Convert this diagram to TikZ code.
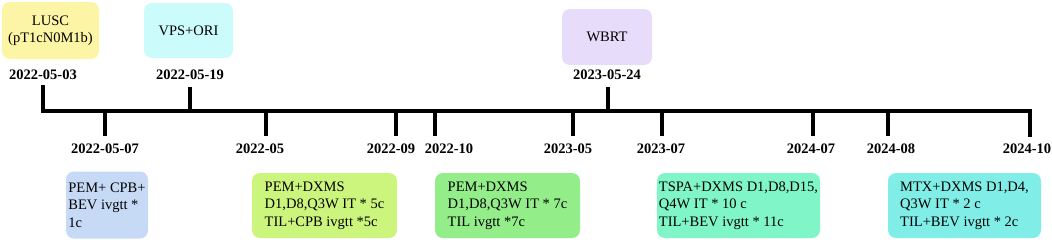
\documentclass[tikz,border=0pt]{standalone}
\usepackage{fontspec}
\setmainfont{Liberation Serif}
\begin{document}
\begin{tikzpicture}[x=1pt,y=-1pt,
  evbox/.style={rounded corners=8pt, draw=none, align=left, inner sep=0pt, font=\fontsize{14.5}{17.5}\selectfont},
  topbox/.style={rounded corners=8pt, draw=none, align=center, inner sep=0pt, font=\fontsize{14.5}{17.5}\selectfont},
  datelbl/.style={font=\fontsize{14.5}{17}\selectfont\bfseries, inner sep=0pt},
  axis/.style={line width=3.5pt, line cap=rect},
  tick/.style={line width=3.5pt}]
\useasboundingbox (0,0) rectangle (1052,242);
\definecolor{cLUSC}{HTML}{FCF5A5}
\definecolor{cVPS}{HTML}{CCFBFB}
\definecolor{cWBRT}{HTML}{E8DCFB}
\definecolor{cB1}{HTML}{C6DAF6}
\definecolor{cB2}{HTML}{CCF57E}
\definecolor{cB3}{HTML}{93EE8A}
\definecolor{cB4}{HTML}{80F5C8}
\definecolor{cB5}{HTML}{80EEE6}

% axis
\coordinate (s0) at (43,87);
\coordinate (s1) at (43,111);
\coordinate (e1) at (1030,111);
\coordinate (e0) at (1030,135);
\draw[axis] (s0) -- (s1) -- (e1) -- (e0);

% upper ticks
\coordinate (u1a) at (190,87); \coordinate (u1b) at (190,111);
\coordinate (u2a) at (608,87); \coordinate (u2b) at (608,111);
\draw[tick] (u1a) -- (u1b);
\draw[tick] (u2a) -- (u2b);

% lower ticks
\foreach \x/\n in {105/a,266/b,396/c,435/d,573/e,662/f,813/g,888/h}{
  \coordinate (l\n a) at (\x,111);
  \coordinate (l\n b) at (\x,136);
  \draw[tick] (l\n a) -- (l\n b);
}

% upper date labels
\node[datelbl] (d1) at (43,75) {2022-05-03};
\node[datelbl] (d2) at (190,75) {2022-05-19};
\node[datelbl] (d3) at (607,75) {2023-05-24};

% lower date labels
\node[datelbl] (dl1) at (105,149) {2022-05-07};
\node[datelbl] (dl2) at (260,149) {2022-05};
\node[datelbl] (dl3) at (391,149) {2022-09};
\node[datelbl] (dl4) at (449,149) {2022-10};
\node[datelbl] (dl5) at (568,149) {2023-05};
\node[datelbl] (dl6) at (661,149) {2023-07};
\node[datelbl] (dl7) at (811,149) {2024-07};
\node[datelbl] (dl8) at (891,149) {2024-08};
\node[datelbl] (dl9) at (1027,149) {2024-10};

% top boxes
\node[topbox, fill=cLUSC, minimum width=97, minimum height=57] (lusc) at (50.5,30.5) {LUSC\\(pT1cN0M1b)};
\node[topbox, fill=cVPS, minimum width=89, minimum height=55] (vps) at (188.5,30.5) {VPS+ORI};
\node[topbox, fill=cWBRT, minimum width=90, minimum height=56] (wbrt) at (607,37) {WBRT};

% bottom boxes
\node[evbox, fill=cB1, minimum width=82, minimum height=67] (b1) at (107,205) {PEM+ CPB+\\BEV ivgtt *\\1c};
\node[evbox, fill=cB2, minimum width=145, minimum height=65] (b2) at (324.5,205.5) {PEM+DXMS\\D1,D8,Q3W IT * 5c\\TIL+CPB ivgtt *5c};
\node[evbox, fill=cB3, minimum width=145, minimum height=65] (b3) at (507.5,205.5) {PEM+DXMS\\D1,D8,Q3W IT * 7c\\TIL ivgtt *7c};
\node[evbox, fill=cB4, minimum width=163, minimum height=65] (b4) at (738.5,205.5) {TSPA+DXMS D1,D8,D15,\\Q4W IT * 10 c\\TIL+BEV ivgtt * 11c};
\node[evbox, fill=cB5, minimum width=153, minimum height=65] (b5) at (964.5,205.5) {MTX+DXMS D1,D4,\\Q3W IT * 2 c\\TIL+BEV ivgtt * 2c};
\end{tikzpicture}
\end{document}
